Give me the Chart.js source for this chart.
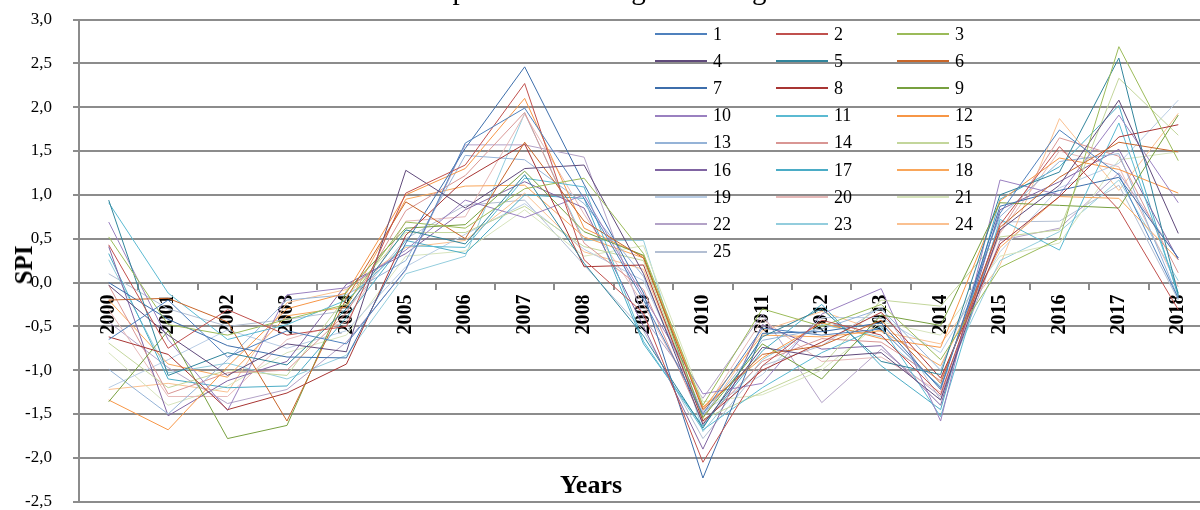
<!DOCTYPE html>
<html>
<head>
<meta charset="utf-8">
<script src="https://cdn.jsdelivr.net/npm/chart.js@4.4.1/dist/chart.umd.min.js"></script>
<style>
  html, body { margin: 0; padding: 0; background: #fff; overflow: hidden; }
  #wrap { position: relative; width: 1200px; height: 510px; overflow: hidden; font-family: "Liberation Serif", "Times New Roman", serif; }
  #box { position: absolute; left: 0; top: 0; width: 1210px; height: 510px; }
  #caption { position: absolute; left: 0px; top: -26px; font-size: 29px; line-height: 30px; white-space: nowrap; color: #000; }
  #ytitle { position: absolute; left: 24px; top: 265px; transform: translate(-50%, -50%) rotate(-90deg); font-size: 25px; font-weight: bold; }
  #xtitle { position: absolute; left: 591px; top: 485px; transform: translate(-50%, -50%); font-size: 26px; font-weight: bold; }
  .lg { position: absolute; height: 24px; display: flex; align-items: center; font-size: 18px; }
  .lg span.swatch { display: inline-block; width: 52px; height: 2px; margin-right: 6px; }
</style>
</head>
<body>
<div id="wrap">
  <div id="box"><canvas id="spiChart"></canvas></div>
  <div id="caption">ed rainfall data and derive a relationship between drought and vegetation indices.</div>
  <div id="ytitle">SPI</div>
  <div id="xtitle">Years</div>
  <div id="legend"></div>
</div>
<script>
const years = ['2000','2001','2002','2003','2004','2005','2006','2007','2008','2009',
               '2010','2011','2012','2013','2014','2015','2016','2017','2018'];

const spi1  = [-0.65, -0.2, -0.85, -0.55, -0.7, 0.15, 1.59, 1.99, 0.96, -0.2, -1.5, -0.52, -0.6, -0.53, -1.2, 0.79, 1.74, 1.23, -0.18];
const spi2  = [0.43, -0.75, -0.31, -0.6, -0.5, 1.02, 1.34, 2.27, 0.26, -0.35, -2.05, -0.95, -0.43, -0.6, -1.28, 0.66, 1.55, 0.83, -0.31];
const spi3  = [0.52, -0.48, -0.6, -0.42, -0.25, 0.69, 0.62, 1.07, 1.19, 0.33, -1.4, -0.3, -0.5, -0.25, -0.88, 0.17, 0.5, 2.69, 1.39];
const spi4  = [-0.03, -0.6, -1.06, -0.7, -0.79, 1.28, 0.85, 1.3, 1.34, 0.1, -1.62, -0.74, -0.85, -0.8, -1.34, 0.6, 1.11, 2.08, 0.56];
const spi5  = [0.94, -1.06, -0.8, -0.94, -0.3, 0.6, 0.44, 1.23, 0.22, -0.61, -1.66, -0.62, -0.3, -0.9, -1.05, 1.0, 1.26, 2.56, -0.14];
const spi6  = [-0.2, -0.18, -0.45, -1.58, -0.18, 0.92, 0.5, 1.6, 0.7, 0.28, -1.45, -0.82, -0.72, -0.43, -1.15, 0.63, 1.2, 1.6, 1.49];
const spi7  = [0.0, -0.42, -0.72, -0.85, -0.86, 0.45, 1.53, 2.46, 1.12, -0.12, -2.23, -0.58, -0.56, -0.46, -1.22, 0.87, 1.05, 1.2, 0.28];
const spi8  = [-0.62, -0.82, -1.45, -1.26, -0.93, 0.54, 1.18, 1.58, 0.18, 0.2, -1.58, -1.0, -0.68, -0.34, -1.09, 0.44, 0.98, 1.66, 1.8];
const spi9  = [-1.36, -0.55, -1.78, -1.63, -0.1, 0.62, 0.66, 1.27, 0.58, 0.31, -1.54, -0.7, -1.1, -0.37, -0.49, 0.91, 0.88, 0.85, 1.91];
const spi10 = [0.69, -0.65, -1.46, -0.14, -0.06, 0.37, 0.94, 0.74, 1.0, -0.16, -1.27, -1.15, -0.36, -0.07, -1.58, 1.17, 1.0, 1.91, 0.91];
const spi11 = [0.91, -0.12, -0.65, -0.48, -0.2, 0.42, 0.4, 1.19, 1.09, -0.67, -1.68, -1.2, -0.8, -0.5, -1.53, 0.72, 0.37, 1.82, -0.12];
const spi12 = [-1.34, -1.68, -0.96, -0.3, -0.12, 1.0, 1.3, 2.1, 0.62, 0.3, -1.42, -0.86, -0.46, -0.64, -0.74, 0.93, 1.42, 1.29, 1.02];
const spi13 = [-0.99, -1.5, -0.88, -0.2, -0.14, 0.25, 1.45, 1.4, 0.9, 0.07, -1.52, -0.66, -0.53, -0.3, -1.0, 0.75, 1.38, 1.47, -0.18];
const spi14 = [-0.03, -1.27, -1.03, -1.0, -0.35, 0.82, 1.22, 1.94, 0.45, -0.08, -1.6, -0.9, -0.64, -0.68, -1.12, 0.58, 1.65, 1.44, 0.11];
const spi15 = [-0.69, -1.2, -1.0, -1.06, -0.16, 0.57, 0.57, 0.87, 0.41, 0.25, -1.56, -1.25, -0.95, -0.2, -0.27, 0.52, 0.6, 2.33, 1.68];
const spi16 = [0.41, -1.52, -1.12, -0.9, -0.02, 0.33, 0.83, 1.15, 0.85, -0.5, -1.9, -0.48, -0.76, -0.72, -1.4, 0.83, 1.15, 1.52, 0.26];
const spi17 = [0.33, -1.1, -1.2, -1.18, -0.4, 0.48, 0.33, 1.0, 0.96, -0.7, -1.64, -0.78, -0.25, -0.95, -1.45, 0.95, 1.32, 2.02, -0.16];
const spi18 = [-0.2, -0.93, -1.08, -0.38, -0.28, 0.95, 1.1, 1.11, 0.52, 0.28, -1.44, -0.6, -0.62, -0.55, -0.95, 0.4, 0.98, 0.96, 0.26];
const spi19 = [-1.2, -0.88, -0.54, -0.75, -0.55, 0.18, 0.55, 0.9, 0.38, 0.02, -1.47, -1.05, -0.4, -0.4, -0.8, 0.35, 1.08, 1.36, 2.08];
const spi20 = [-0.31, -1.3, -1.3, -0.65, -0.45, 0.7, 0.75, 1.92, 0.78, -0.25, -1.48, -0.42, -0.9, -0.85, -1.25, 0.56, 1.5, 1.32, -0.05];
const spi21 = [-0.8, -1.4, -1.18, -0.8, -0.6, 0.3, 0.36, 0.83, 0.3, 0.42, -1.36, -1.28, -1.0, -0.45, -0.6, 0.3, 0.45, 1.4, 1.49];
const spi22 = [-0.45, -0.97, -1.38, -1.22, -0.68, 0.14, 1.57, 1.57, 1.43, -0.4, -1.32, -0.36, -1.37, -0.76, -1.3, 0.48, 0.62, 1.25, 0.28];
const spi23 = [0.26, -1.03, -0.92, -1.1, -0.83, 0.1, 0.3, 1.93, 0.48, 0.48, -1.7, -0.88, -0.48, -0.62, -1.18, 0.25, 0.58, 1.17, 0.02];
const spi24 = [-1.22, -1.15, -1.25, -0.23, -0.08, 0.4, 0.48, 1.02, 0.35, 0.15, -1.55, -0.55, -0.33, -0.56, -0.7, 0.2, 1.87, 1.05, 1.93];
const spi25 = [0.1, -0.3, -0.5, -0.42, -0.32, 0.5, 0.88, 0.94, 0.2, -0.55, -1.78, -0.95, -0.72, -0.28, -1.34, 0.69, 0.7, 1.11, -0.2];

const seriesNames = ['1','2','3','4','5','6','7','8','9','10','11','12','13',
                     '14','15','16','17','18','19','20','21','22','23','24','25'];
const seriesData = [spi1, spi2, spi3, spi4, spi5, spi6, spi7, spi8, spi9, spi10, spi11, spi12, spi13,
                    spi14, spi15, spi16, spi17, spi18, spi19, spi20, spi21, spi22, spi23, spi24, spi25];

// Excel 2010 style palette
const seriesColors = ['#4f81bd', '#c0504d', '#9bbb59', '#604a7b', '#31859c', '#c8662a',
                      '#3d6eab', '#a83533', '#77a03f', '#9a80c0', '#5bbad2', '#f79646',
                      '#95b3d7', '#d99694', '#c3d69b', '#8064a2', '#4bacc6', '#f9a65a',
                      '#b9cde5', '#e6b9b8', '#d7e4bd', '#b3a2c7', '#93cddd', '#fac090', '#b3bfd3'];

const gridGray = '#8c8c8c';

const datasets = seriesData.map((d, i) => ({
    label: seriesNames[i],
    data: d,
    borderColor: seriesColors[i],
    backgroundColor: seriesColors[i],
    borderWidth: 1,
    pointRadius: 0,
    tension: 0,
    fill: false
}));

const chart = new Chart(document.getElementById('spiChart'), {
    type: 'line',
    data: { labels: years, datasets: datasets },
    options: {
        responsive: true,
        maintainAspectRatio: false,
        animation: false,
        devicePixelRatio: 1,
        layout: { padding: { left: 0, top: 19.5, right: 2, bottom: 8.3 } },
        plugins: { legend: { display: false }, tooltip: { enabled: false } },
        scales: {
            x: {
                position: { y: 0 },
                offset: true,
                afterFit: s => { s.height = 0; s.paddingTop = 0; s.paddingBottom = 0; },
                border: { display: true, color: gridGray, width: 2 },
                grid: { offset: true, drawOnChartArea: false, drawTicks: true, tickLength: 6, color: gridGray, lineWidth: 2 },
                ticks: {
                    autoSkip: false, minRotation: 90, maxRotation: 90, padding: 6, color: '#000',
                    font: { family: '"Liberation Serif", "Times New Roman", serif', size: 20, weight: 'bold' }
                }
            },
            y: {
                min: -2.5,
                max: 3.0,
                afterFit: s => { s.width = 79; s.paddingTop = 0; s.paddingBottom = 0; },
                border: { display: true, color: gridGray, width: 2 },
                grid: { color: gridGray, lineWidth: 2, tickLength: 6 },
                ticks: {
                    stepSize: 0.5, padding: 21, color: '#000',
                    font: { family: '"Liberation Serif", "Times New Roman", serif', size: 17 },
                    callback: v => v.toFixed(1).replace('.', ',')
                }
            }
        }
    }
});

// legend: 3 columns inside the plot, built from the datasets
const legendEl = document.getElementById('legend');
const colX = [655, 776, 897];
chart.data.datasets.forEach((ds, i) => {
    const item = document.createElement('div');
    item.className = 'lg';
    item.style.left = colX[i % 3] + 'px';
    item.style.top = (22 + 27.2 * Math.floor(i / 3)) + 'px';
    item.innerHTML = '<span class="swatch" style="background:' + ds.borderColor + '"></span>' + ds.label;
    legendEl.appendChild(item);
});
</script>
</body>
</html>
